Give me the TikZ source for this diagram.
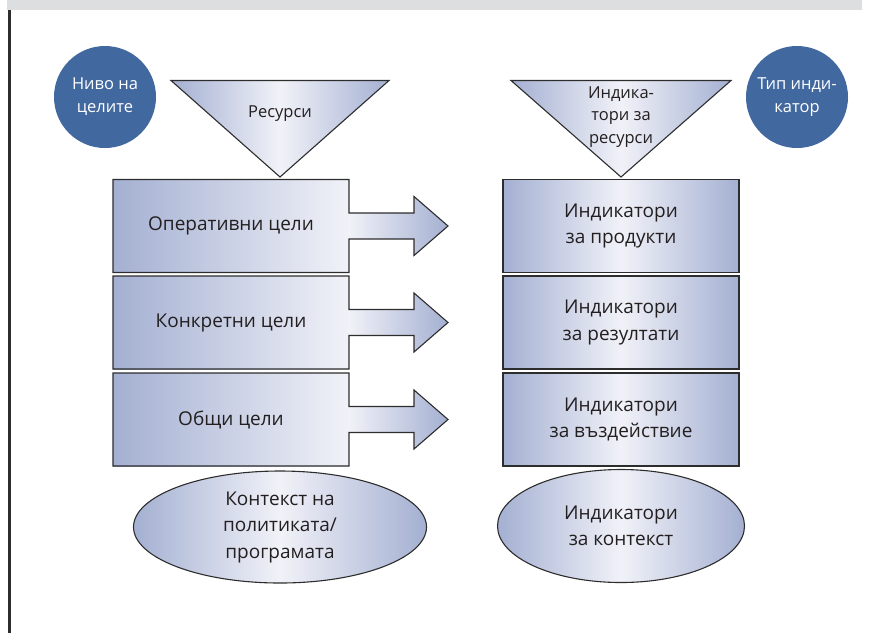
\documentclass[tikz,border=0pt]{standalone}
\usepackage{fontspec}
\setmainfont{Open Sans}
\usetikzlibrary{shapes.geometric}
\definecolor{dk}{RGB}{164,176,210}
\definecolor{lt}{RGB}{241,242,248}
\definecolor{circ}{RGB}{66,104,160}
\definecolor{edge}{RGB}{45,45,45}
\definecolor{txt}{RGB}{35,31,32}
\definecolor{bar}{RGB}{221,222,224}
\tikzset{
  outl/.style={draw=edge, line width=1.1pt, line join=miter},
  symshade/.style={left color=dk, right color=dk, middle color=lt},
  bigtext/.style={font=\fontsize{19}{26.5}\selectfont, align=center, text=txt},
  smalltext/.style={font=\fontsize{16.5}{22.5}\selectfont, align=center, text=txt},
  lvlcircle/.style={circle, fill=circ, minimum size=102pt, inner sep=0pt, text=white, align=center, font=\fontsize{16.5}{23}\selectfont},
  rbox/.style={rectangle, outl, symshade, minimum width=236pt, minimum height=93pt, inner sep=0pt, outer sep=0pt, bigtext},
  ctxell/.style={ellipse, outl, symshade, inner sep=0pt, bigtext}
}
\begin{document}
\begin{tikzpicture}[x=1pt,y=-1pt]
\useasboundingbox (0,0) rectangle (885,633);
% top bar and left rule
\fill[bar] (7,0) rectangle (862,9.5);
\draw[line width=2.6pt, color=edge] (9.5,10) -- (9.5,633);
% level circles
\node[lvlcircle] (lvl) at (105,97) {Ниво на\\целите};
\node[lvlcircle] (typ) at (797,97) {Тип инди-\\катор};
% triangles
\shade[symshade] (171,80.5) -- (389,80.5) -- (280,177) -- cycle;
\draw[outl] (171,80.5) -- (389,80.5) -- (280,177) -- cycle;
\node[smalltext] (res) at (280,114) {Ресурси};
\shade[symshade] (511,80.5) -- (731,80.5) -- (621,177) -- cycle;
\draw[outl] (511,80.5) -- (731,80.5) -- (621,177) -- cycle;
\node[smalltext] (ires) at (621,117) {Индика-\\тори за\\ресурси};
% goal rows with arrows
\foreach \yc/\nm/\txt in {226/op/Оперативни цели, 322.5/kc/Конкретни цели, 419.5/ob/Общи цели}{
  \shade[left color=dk, right color=lt] (113,{\yc-46.5}) rectangle (349,{\yc+46.5});
  \shade[left color=lt, right color=dk] (348.5,{\yc-13}) -- (414,{\yc-13}) -- (414,{\yc-29.5}) -- (448,\yc) -- (414,{\yc+29.5}) -- (414,{\yc+13}) -- (348.5,{\yc+13}) -- cycle;
  \draw[outl] (113,{\yc-46.5}) -- (349,{\yc-46.5}) -- (349,{\yc-13}) -- (414,{\yc-13}) -- (414,{\yc-29.5}) -- (448,\yc) -- (414,{\yc+29.5}) -- (414,{\yc+13}) -- (349,{\yc+13}) -- (349,{\yc+46.5}) -- (113,{\yc+46.5}) -- cycle;
  \node[bigtext] (\nm) at (231,\yc) {\txt};
}
% indicator boxes
\node[rbox] (iprod) at (621,226) {Индикатори\\за продукти};
\node[rbox] (irez) at (621,322.5) {Индикатори\\за резултати};
\node[rbox] (ivaz) at (621,419.5) {Индикатори\\за въздействие};
% context ellipses
\node[ctxell, minimum width=293pt, minimum height=112pt] (ctx) at (280,527) {Контекст на\\политиката/\\програмата};
\node[ctxell, minimum width=247pt, minimum height=113pt] (ictx) at (621,526) {Индикатори\\за контекст};
\end{tikzpicture}
\end{document}
